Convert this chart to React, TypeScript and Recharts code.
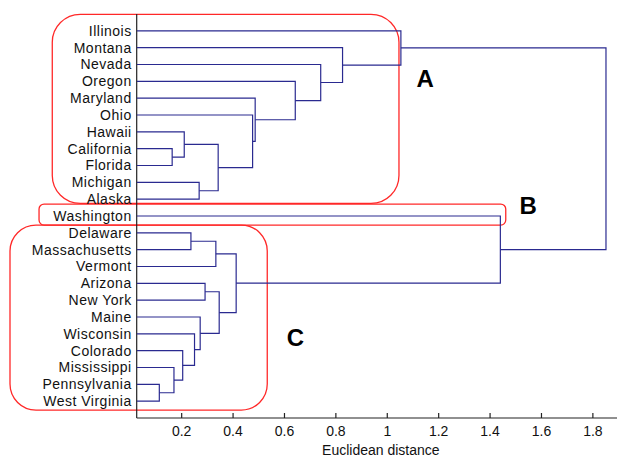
import React from "react";
import { ScatterChart, Scatter, XAxis, YAxis, ReferenceArea, ReferenceDot } from "recharts";

// Leaves, top to bottom
const leaves = [
  "Illinois", "Montana", "Nevada", "Oregon", "Maryland", "Ohio", "Hawaii",
  "California", "Florida", "Michigan", "Alaska", "Washington", "Delaware",
  "Massachusetts", "Vermont", "Arizona", "New York", "Maine", "Wisconsin",
  "Colorado", "Mississippi", "Pennsylvania", "West Virginia",
];

// Merges: children are leaf names or indices of earlier merges
const mergeLeft: (string | number)[] = [
  "California", "Hawaii", "Michigan", 1, "Ohio", "Maryland", "Oregon", "Nevada",
  "Montana", "Illinois", "Pennsylvania", "Mississippi", "Colorado", "Wisconsin",
  "Maine", "Arizona", 15, "Delaware", "Vermont", 18, "Washington", 9,
];
const mergeRight: (string | number)[] = [
  "Florida", 0, "Alaska", 2, 3, 4, 5, 6, 7, 8, "West Virginia", 10, 11, 12, 13,
  "New York", 14, "Massachusetts", 17, 16, 19, 20,
];
const mergeHeight = [
  0.163, 0.21, 0.268, 0.342, 0.476, 0.486, 0.642, 0.741, 0.826, 1.053,
  0.113, 0.17, 0.204, 0.25, 0.272, 0.291, 0.346, 0.236, 0.333, 0.412, 1.44, 1.851,
];

const xTicks = [0.2, 0.4, 0.6, 0.8, 1, 1.2, 1.4, 1.6, 1.8];
const xDomain = [0.025, 1.925];

// Cluster annotations
const clusterNames = ["A", "B", "C"];
const clusterLabelX = [1.147, 1.548, 0.643];
const clusterLabelY = [3.86, 11.35, 19.19];
const boxX1 = [-0.3035, -0.355, -0.468];
const boxX2 = [1.0455, 1.461, 0.533];
const boxY1 = [0.02, 11.29, 12.54];
const boxY2 = [11.25, 12.54, 23.53];
const boxRadius = [28, 5, 26];

const BLUE = "#2a2a90";
const RED = "#ff2828";
const FONT = "'Liberation Sans', Arial, Helvetica, sans-serif";

type Pt = { x: number; y: number };

const nodeY: number[] = [];
const nodeH: number[] = [];
const pos = (r: string | number) =>
  typeof r === "string"
    ? { y: leaves.indexOf(r) + 1, h: 0 }
    : { y: nodeY[r], h: nodeH[r] };

const links: Pt[][] = [];
for (let i = 0; i < mergeHeight.length; i++) {
  const a = pos(mergeLeft[i]);
  const b = pos(mergeRight[i]);
  const h = mergeHeight[i];
  nodeY[i] = (a.y + b.y) / 2;
  nodeH[i] = h;
  links.push([
    { x: Math.max(a.h, xDomain[0]), y: a.y },
    { x: h, y: a.y },
    { x: h, y: b.y },
    { x: Math.max(b.h, xDomain[0]), y: b.y },
  ]);
}

const yTicks = leaves.map((_, i) => i + 1);

export default function App() {
  return (
    <div style={{ width: 617, height: 450, background: "#fff" }}>
      <ScatterChart width={617} height={450} margin={{ top: 6, right: 0, bottom: 0, left: 0 }}>
        <XAxis
          type="number"
          dataKey="x"
          domain={xDomain}
          allowDataOverflow
          ticks={xTicks}
          interval={0}
          tickFormatter={(v: number) => String(Number(v.toFixed(1)))}
          height={40}
          tickSize={-5}
          tickMargin={13}
          axisLine={{ stroke: "#222", strokeWidth: 1.2 }}
          tickLine={{ stroke: "#222", strokeWidth: 1.2 }}
          tick={{ fill: "#111", fontSize: 14, fontFamily: FONT }}
          label={{ value: "Euclidean distance", position: "insideBottom", offset: 3, fill: "#111", fontSize: 14, fontFamily: FONT }}
        />
        <YAxis
          type="number"
          dataKey="y"
          domain={[0, 24]}
          allowDataOverflow
          reversed
          ticks={yTicks}
          interval={0}
          tickFormatter={(v: number) => leaves[v - 1]}
          width={128.7}
          tickLine={false}
          tickSize={0}
          tickMargin={5}
          axisLine={{ stroke: "#222", strokeWidth: 1.2 }}
          tick={{ fill: "#111", fontSize: 14, fontFamily: FONT, letterSpacing: 0.5 }}
        />
        {links.map((pts, i) => (
          <Scatter
            key={"l" + i}
            data={pts}
            line={{ stroke: BLUE, strokeWidth: 1.2 }}
            lineType="joint"
            shape={() => <g />}
            isAnimationActive={false}
          />
        ))}
        {clusterNames.map((name, i) => (
          <ReferenceArea
            key={"b" + name}
            x1={boxX1[i]}
            x2={boxX2[i]}
            y1={boxY1[i]}
            y2={boxY2[i]}
            ifOverflow="visible"
            shape={(p: any) => (
              <rect
                x={p.x}
                y={p.y}
                width={p.width}
                height={p.height}
                rx={boxRadius[i]}
                ry={boxRadius[i]}
                fill="none"
                stroke={RED}
                strokeWidth={1.3}
              />
            )}
          />
        ))}
        {clusterNames.map((name, i) => (
          <ReferenceDot
            key={"t" + name}
            x={clusterLabelX[i]}
            y={clusterLabelY[i]}
            ifOverflow="visible"
            shape={(p: any) => (
              <text
                x={p.cx}
                y={p.cy}
                textAnchor="middle"
                dominantBaseline="central"
                fontSize={24}
                fontWeight="bold"
                fontFamily={FONT}
                fill="#000"
              >
                {name}
              </text>
            )}
          />
        ))}
      </ScatterChart>
    </div>
  );
}
